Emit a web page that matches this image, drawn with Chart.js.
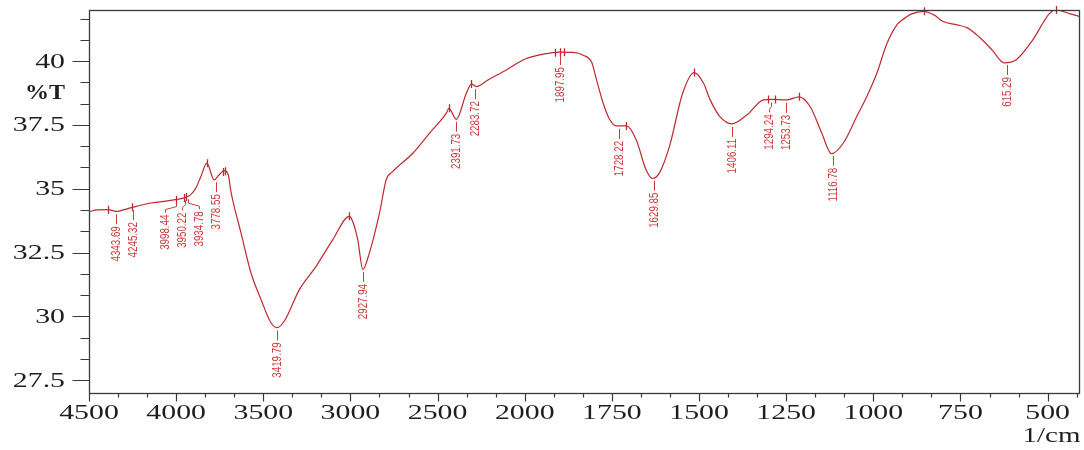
<!DOCTYPE html>
<html>
<head>
<meta charset="utf-8">
<title>FTIR spectrum</title>
<script src="https://cdn.jsdelivr.net/npm/chart.js@4.4.1/dist/chart.umd.min.js"></script>
<style>
    html, body { margin: 0; padding: 0; background: #fff; }
    #ftir-chart { display: block; }
</style>
</head>
<body>
<canvas id="ftir-chart" width="1084" height="450"></canvas>
<script>
// Spectrum (wavenumber in 1/cm, transmittance in %T)
var wavenumbers = [
    4500, 4452, 4391, 4337, 4299, 4251, 4145, 4002, 3954, 3916,
    3887, 3858, 3824, 3782, 3753, 3724, 3701, 3686, 3667, 3628,
    3571, 3513, 3456, 3421, 3379, 3293, 3197, 3102, 3006, 2987,
    2958, 2929, 2891, 2833, 2795, 2757, 2642, 2546, 2450, 2435,
    2393, 2335, 2306, 2278, 2211, 2106, 2000, 1947, 1899, 1861,
    1832, 1808, 1794, 1775, 1756, 1737, 1708, 1680, 1652, 1633,
    1614, 1585, 1547, 1514, 1487, 1468, 1440, 1406, 1363, 1315,
    1291, 1248, 1213, 1181, 1148, 1120, 1086, 1048, 1019, 990,
    961, 933, 918, 890, 855, 825, 800, 760, 730, 697,
    659, 625, 591, 543, 495, 476, 437, 410
];
var transmittance = [
    34.10, 34.17, 34.18, 34.11, 34.18, 34.27, 34.44, 34.57, 34.64, 34.77,
    35.03, 35.48, 36.00, 35.35, 35.55, 35.71, 35.55, 34.90, 34.31, 33.27,
    31.71, 30.66, 29.75, 29.56, 29.82, 31.05, 31.96, 33.00, 33.92, 33.72,
    33.00, 31.84, 32.49, 34.05, 35.35, 35.68, 36.39, 37.18, 37.96, 38.15,
    37.72, 38.74, 39.10, 39.00, 39.26, 39.65, 40.07, 40.27, 40.35, 40.34,
    40.23, 39.95, 39.26, 38.35, 37.70, 37.46, 37.46, 36.91, 35.74, 35.40,
    35.61, 36.65, 38.74, 39.55, 39.13, 38.48, 37.82, 37.54, 37.89, 38.48,
    38.50, 38.48, 38.60, 38.21, 37.18, 36.37, 36.79, 37.82, 38.60, 39.52,
    40.69, 41.41, 41.60, 41.85, 41.95, 41.80, 41.55, 41.42, 41.30, 40.95,
    40.43, 39.93, 40.04, 40.82, 41.86, 42.00, 41.86, 41.75
];

// Labelled band positions and the small peak-pick marks on the trace
var peakWavenumbers = [
    4343.69, 4245.32, 3998.44, 3950.22, 3934.78, 3778.55, 3419.79, 2927.94, 2391.73,
    2283.72, 1897.95, 1728.22, 1629.85, 1406.11, 1294.24, 1253.73, 1116.78, 615.29
];
var markWavenumbers = [
    4391, 4251, 4002, 3954, 3944, 3824, 3734, 3720, 3006, 2435, 2306,
    1912, 1899, 1888, 1710, 1514, 1302, 1281, 1213, 855, 476
];

var xTickLabels = [4500, 4000, 3500, 3000, 2500, 2000, 1750, 1500, 1250, 1000, 750, 500];
var yTickLabels = [27.5, 30, 32.5, 35, 37.5, 40];
var xRange = [4500, 410];
var yRange = [27, 42];
var xTitle = '1/cm';
var yTitle = '%T';

(function () {
    'use strict';

    var LINE_COLOR = '#bd2a2e';
    var LABEL_COLOR = '#cf3b3b';
    var AXIS_COLOR = '#3a3a3a';
    var TEXT_COLOR = '#1e1e1e';
    var SERIF = '"Liberation Serif", "Times New Roman", serif';

    // The x axis changes pitch at 2000: 500 per division above, 250 below.
    var BREAK = 2000;
    function toAxis(w) {
        if (w >= BREAK) {
            return (xRange[0] - w) / 500;
        }
        return (xRange[0] - BREAK) / 500 + (BREAK - w) / 250;
    }

    /**
     * %T on the trace at a wavenumber (linear between read points).
     */
    function traceAt(w) {
        var u = toAxis(w);
        for (var i = 0; i < wavenumbers.length - 1; i++) {
            var u0 = toAxis(wavenumbers[i]);
            var u1 = toAxis(wavenumbers[i + 1]);
            if (u >= u0 && u <= u1) {
                var f = (u - u0) / (u1 - u0);
                return transmittance[i] + f * (transmittance[i + 1] - transmittance[i]);
            }
        }
        return transmittance[transmittance.length - 1];
    }

    /**
     * Text stretched horizontally, like the wide serif of the original print.
     */
    function wideText(ctx, text, x, y, align, stretch) {
        ctx.save();
        ctx.translate(x, y);
        ctx.scale(stretch, 1);
        ctx.textAlign = align;
        ctx.textBaseline = 'middle';
        ctx.fillText(text, 0, 0);
        ctx.restore();
    }

    // Frame, ticks and tick labels
    var axesPlugin = {
        id: 'ftirAxes',
        afterDraw: function (chart) {
            var ctx = chart.ctx;
            var area = chart.chartArea;
            var xs = chart.scales.x;
            var ys = chart.scales.y;
            var left = Math.round(area.left) + 0.5;
            var right = Math.round(area.right) + 0.5;
            var top = Math.round(area.top) + 0.5;
            var bottom = Math.round(area.bottom) + 0.5;

            ctx.save();
            ctx.strokeStyle = AXIS_COLOR;
            ctx.lineWidth = 1.3;
            ctx.strokeRect(left, top, right - left, bottom - top);

            // x ticks: three per division, majors longer
            var uMax = toAxis(xRange[1]);
            ctx.lineWidth = 1.2;
            ctx.beginPath();
            for (var k = 0; k / 3 <= uMax + 1e-6; k++) {
                var px = Math.round(xs.getPixelForValue(k / 3)) + 0.5;
                var len = k % 3 === 0 ? 8 : 4;
                ctx.moveTo(px, bottom);
                ctx.lineTo(px, bottom + len);
            }

            // y ticks: three per 2.5 %T, majors longer
            var step = 2.5 / 3;
            for (var j = -1; yTickLabels[0] + j * step <= yRange[1] + 1e-6; j++) {
                var v = yTickLabels[0] + j * step;
                if (v < yRange[0]) {
                    continue;
                }
                var py = Math.round(ys.getPixelForValue(v)) + 0.5;
                var ylen = (j % 3 === 0) ? 17 : 9;
                ctx.moveTo(left, py);
                ctx.lineTo(left - ylen, py);
            }
            ctx.stroke();

            ctx.fillStyle = TEXT_COLOR;
            ctx.font = '21px ' + SERIF;
            xTickLabels.forEach(function (w) {
                wideText(ctx, String(w), xs.getPixelForValue(toAxis(w)), bottom + 20, 'center', 1.42);
            });
            yTickLabels.forEach(function (v) {
                wideText(ctx, String(v), 65, ys.getPixelForValue(v) + 1, 'right', 1.42);
            });

            wideText(ctx, xTitle, right + 1, bottom + 43, 'right', 1.38);
            ctx.font = 'bold 20px ' + SERIF;
            wideText(ctx, yTitle, 65, 94, 'right', 1.2);
            ctx.restore();
        }
    };

    // Peak-pick marks and rotated band labels with leaders
    var peaksPlugin = {
        id: 'ftirPeaks',
        afterDatasetsDraw: function (chart) {
            var ctx = chart.ctx;
            var xs = chart.scales.x;
            var ys = chart.scales.y;
            var GAP = 17;

            ctx.save();
            ctx.strokeStyle = LINE_COLOR;
            ctx.lineWidth = 1.3;
            ctx.beginPath();
            markWavenumbers.forEach(function (w) {
                var px = Math.round(xs.getPixelForValue(toAxis(w))) + 0.5;
                var py = ys.getPixelForValue(traceAt(w));
                ctx.moveTo(px, py - 4);
                ctx.lineTo(px, py + 4);
            });
            ctx.stroke();

            // spread crowded labels apart
            var items = peakWavenumbers.map(function (w) {
                var px = xs.getPixelForValue(toAxis(w));
                return { w: w, px: px, py: ys.getPixelForValue(traceAt(w)), lx: px };
            });
            items.sort(function (a, b) { return a.px - b.px; });

            var groups = items.map(function (it) { return [it]; });
            var moved = true;
            while (moved) {
                moved = false;
                groups.forEach(function (g) {
                    var mean = g.reduce(function (s, it) { return s + it.px; }, 0) / g.length;
                    g.forEach(function (it, i) {
                        it.lx = mean + (i - (g.length - 1) / 2) * GAP;
                    });
                });
                for (var i = 0; i < groups.length - 1; i++) {
                    var a = groups[i];
                    var b = groups[i + 1];
                    if (b[0].lx - a[a.length - 1].lx < GAP - 0.01) {
                        groups.splice(i, 2, a.concat(b));
                        moved = true;
                        break;
                    }
                }
            }

            ctx.strokeStyle = LABEL_COLOR;
            ctx.fillStyle = LABEL_COLOR;
            ctx.lineWidth = 1;
            ctx.font = '12.5px "Liberation Sans", Arial, sans-serif';
            items.forEach(function (it) {
                var px = Math.round(it.px) + 0.5;
                var lx = Math.round(it.lx) + 0.5;
                var y = it.py;
                ctx.beginPath();
                if (Math.abs(lx - px) < 1.5) {
                    ctx.moveTo(lx, y + 3);
                    ctx.lineTo(lx, y + 13);
                } else {
                    ctx.moveTo(px, y + 3);
                    ctx.lineTo(px, y + 7);
                    ctx.lineTo(lx, y + 10);
                    ctx.lineTo(lx, y + 13);
                }
                ctx.stroke();

                ctx.save();
                ctx.translate(lx, y + 15);
                ctx.rotate(-Math.PI / 2);
                ctx.scale(0.78, 1);
                ctx.textAlign = 'right';
                ctx.textBaseline = 'middle';
                ctx.fillText(it.w.toFixed(2), 0, 0);
                ctx.restore();
            });
            ctx.restore();
        }
    };

    function initSpectrum() {
        var canvas = document.getElementById('ftir-chart');
        if (!canvas || !window.Chart) {
            return;
        }

        var points = wavenumbers.map(function (w, i) {
            return { x: toAxis(w), y: transmittance[i] };
        });

        new Chart(canvas.getContext('2d'), {
            type: 'line',
            data: {
                datasets: [{
                    label: yTitle,
                    data: points,
                    borderColor: LINE_COLOR,
                    borderWidth: 1.2,
                    pointRadius: 0,
                    fill: false,
                    cubicInterpolationMode: 'monotone'
                }]
            },
            options: {
                responsive: false,
                devicePixelRatio: 1,
                animation: false,
                layout: {
                    padding: { left: 89, right: 5, top: 10, bottom: 57 }
                },
                plugins: {
                    legend: { display: false },
                    tooltip: { enabled: false }
                },
                scales: {
                    x: {
                        type: 'linear',
                        display: false,
                        min: 0,
                        max: toAxis(xRange[1])
                    },
                    y: {
                        type: 'linear',
                        display: false,
                        min: yRange[0],
                        max: yRange[1]
                    }
                }
            },
            plugins: [peaksPlugin, axesPlugin]
        });
    }

    initSpectrum();
})();
</script>
</body>
</html>
